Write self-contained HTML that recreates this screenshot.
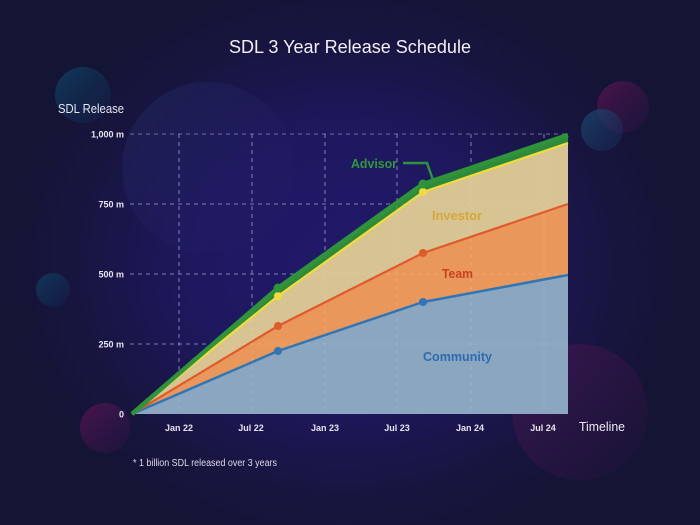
<!DOCTYPE html>
<html><head><meta charset="utf-8"><style>
html,body{margin:0;padding:0;}
body{width:700px;height:525px;overflow:hidden;background:#151436;}
svg{display:block;}
text{font-family:"Liberation Sans",sans-serif;}
</style></head><body>
<svg width="700" height="525" viewBox="0 0 700 525" xmlns="http://www.w3.org/2000/svg">
<defs>
<radialGradient id="bg" cx="345" cy="265" r="340" gradientUnits="userSpaceOnUse" gradientTransform="translate(345 265) scale(1 0.85) translate(-345 -265)">
<stop offset="0" stop-color="#22196b"/>
<stop offset="0.45" stop-color="#1e185f"/>
<stop offset="0.8" stop-color="#17153f"/>
<stop offset="1" stop-color="#141434"/>
</radialGradient>
<linearGradient id="teal" x1="0" y1="0" x2="1" y2="1">
<stop offset="0" stop-color="#0f4060" stop-opacity="0.85"/>
<stop offset="1" stop-color="#122a55" stop-opacity="0.25"/>
</linearGradient>
<linearGradient id="mag" x1="0" y1="0" x2="1" y2="1">
<stop offset="0" stop-color="#5a1550" stop-opacity="0.8"/>
<stop offset="1" stop-color="#3a1450" stop-opacity="0.2"/>
</linearGradient>
<linearGradient id="blue" x1="0" y1="0" x2="1" y2="1">
<stop offset="0" stop-color="#1b4a70" stop-opacity="0.8"/>
<stop offset="1" stop-color="#1a3060" stop-opacity="0.3"/>
</linearGradient>
<linearGradient id="big" x1="0" y1="0" x2="1" y2="1">
<stop offset="0" stop-color="#2a3578" stop-opacity="0.35"/>
<stop offset="1" stop-color="#241d6a" stop-opacity="0.03"/>
</linearGradient>
</defs>
<rect width="700" height="525" fill="url(#bg)"/>
<!-- decorative circles -->
<circle cx="208" cy="168" r="86" fill="url(#big)"/>
<circle cx="83" cy="95" r="28" fill="url(#teal)"/>
<circle cx="53" cy="290" r="17" fill="url(#teal)"/>
<circle cx="105" cy="428" r="25" fill="url(#mag)"/>
<circle cx="580" cy="412" r="68" fill="url(#mag)" opacity="0.65"/>
<circle cx="623" cy="107" r="26" fill="url(#mag)"/>
<circle cx="602" cy="130" r="21" fill="url(#blue)"/>

<!-- title -->
<text x="350" y="53" text-anchor="middle" font-size="18" fill="#f2f0f6" textLength="242" lengthAdjust="spacingAndGlyphs">SDL 3 Year Release Schedule</text>
<text x="58" y="113" font-size="13" fill="#e8e6f0" textLength="66" lengthAdjust="spacingAndGlyphs">SDL Release</text>

<!-- gridlines -->
<g stroke="#7f7cb4" stroke-width="1" stroke-dasharray="4 4" fill="none" opacity="0.85">
<line x1="130" y1="134" x2="568" y2="134"/>
<line x1="130" y1="204" x2="568" y2="204"/>
<line x1="130" y1="274" x2="568" y2="274"/>
<line x1="130" y1="344" x2="568" y2="344"/>
<line x1="179" y1="134" x2="179" y2="414"/>
<line x1="252" y1="134" x2="252" y2="414"/>
<line x1="325" y1="134" x2="325" y2="414"/>
<line x1="397" y1="134" x2="397" y2="414"/>
<line x1="471" y1="134" x2="471" y2="414"/>
<line x1="544" y1="134" x2="544" y2="414"/>
</g>

<!-- y tick labels -->
<g font-size="9" font-weight="bold" fill="#e6e4ee" text-anchor="end">
<text x="124" y="137.5">1,000 m</text>
<text x="124" y="207.5">750 m</text>
<text x="124" y="277.5">500 m</text>
<text x="124" y="347.5">250 m</text>
<text x="124" y="417.5">0</text>
</g>

<!-- areas -->
<polygon points="132,414 278,288 423,184 568,135 568,143 423,192 278,296" fill="#2e8a3a"/>
<polygon points="132,414 278,296 423,192 568,143 568,204 423,253 278,326" fill="#d8c392"/>
<polygon points="132,414 278,326 423,253 568,204 568,275 423,302 278,351" fill="#ea975b"/>
<polygon points="132,414 278,351 423,302 568,275 568,414" fill="#8ba6bf"/>

<!-- faint gridlines over fills -->
<g stroke="#ffffff" stroke-width="1" stroke-dasharray="4 4" fill="none" opacity="0.12">
<line x1="179" y1="134" x2="179" y2="414"/>
<line x1="252" y1="134" x2="252" y2="414"/>
<line x1="325" y1="134" x2="325" y2="414"/>
<line x1="397" y1="134" x2="397" y2="414"/>
<line x1="471" y1="134" x2="471" y2="414"/>
<line x1="544" y1="134" x2="544" y2="414"/>
<line x1="130" y1="204" x2="568" y2="204"/>
<line x1="130" y1="274" x2="568" y2="274"/>
<line x1="130" y1="344" x2="568" y2="344"/>
</g>

<!-- lines -->
<polyline points="132,414 278,351 423,302 568,275" fill="none" stroke="#2f76b6" stroke-width="2.5" stroke-linejoin="round"/>
<polyline points="132,414 278,326 423,253 568,204" fill="none" stroke="#e05a2b" stroke-width="2.2" stroke-linejoin="round"/>
<polyline points="132,414 278,296 423,192 568,143" fill="none" stroke="#f2dc3c" stroke-width="2.2" stroke-linejoin="round"/>
<polyline points="132,414 278,288 423,184 568,135" fill="none" stroke="#2e9439" stroke-width="4.5" stroke-linejoin="round"/>

<!-- markers -->
<g>
<circle cx="278" cy="351" r="4" fill="#2f76b6"/>
<circle cx="423" cy="302" r="4" fill="#2f76b6"/>
<circle cx="278" cy="326" r="4" fill="#e05a2b"/>
<circle cx="423" cy="253" r="4" fill="#e05a2b"/>
<circle cx="278" cy="296" r="4" fill="#f2dc3c"/>
<circle cx="423" cy="192" r="4" fill="#f2dc3c"/>
<circle cx="278" cy="288" r="4.5" fill="#2e9439"/>
<circle cx="423" cy="184" r="4.5" fill="#2e9439"/>
</g>

<!-- advisor leader -->
<polyline points="403,163 427,163 433,180" fill="none" stroke="#2e9439" stroke-width="2.5"/>

<!-- series labels -->
<g font-weight="bold" font-size="12.5">
<text x="351" y="168" fill="#2f9a3b" textLength="46" lengthAdjust="spacingAndGlyphs">Advisor</text>
<text x="432" y="220" fill="#d6a83a" textLength="50" lengthAdjust="spacingAndGlyphs">Investor</text>
<text x="442" y="278" fill="#c9421f" textLength="31" lengthAdjust="spacingAndGlyphs">Team</text>
<text x="423" y="361" fill="#2d6cb0" textLength="69" lengthAdjust="spacingAndGlyphs">Community</text>
</g>

<!-- x tick labels -->
<g font-size="9" font-weight="bold" fill="#e6e4ee" text-anchor="middle">
<text x="179" y="431">Jan 22</text>
<text x="251" y="431">Jul 22</text>
<text x="325" y="431">Jan 23</text>
<text x="397" y="431">Jul 23</text>
<text x="470" y="431">Jan 24</text>
<text x="543" y="431">Jul 24</text>
</g>
<text x="579" y="431" font-size="13" fill="#ecebf3" textLength="46" lengthAdjust="spacingAndGlyphs">Timeline</text>

<text x="133" y="466" font-size="10" fill="#dcdae6" textLength="144" lengthAdjust="spacingAndGlyphs">* 1 billion SDL released over 3 years</text>
</svg>
</body></html>
